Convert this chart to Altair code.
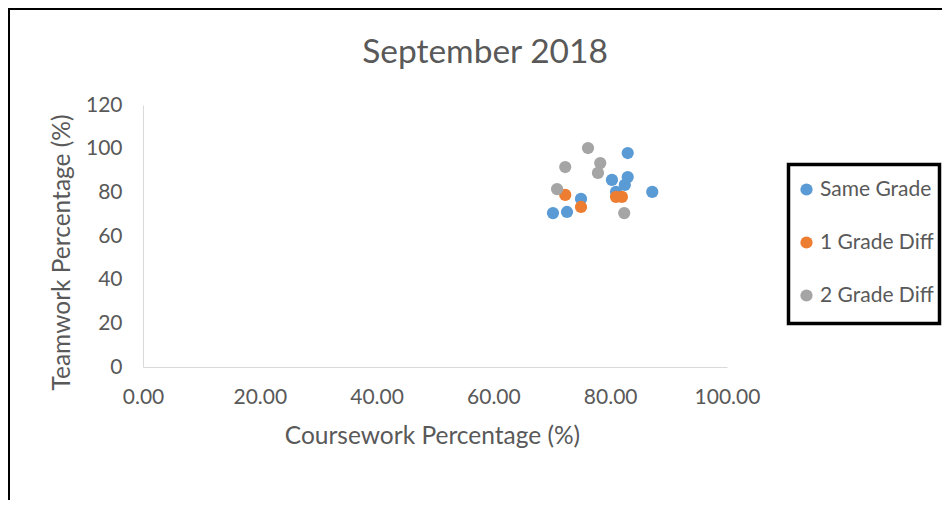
import altair as alt
import pandas as pd

# Series data (Coursework %, Teamwork %)
same_x = [70.2, 72.6, 75.0, 80.3, 81.0, 82.5, 83.0, 83.0, 87.2]
same_y = [70.5, 71.0, 77.0, 85.7, 80.2, 83.4, 87.0, 98.0, 80.2]
one_x = [72.3, 75.0, 81.0, 82.0]
one_y = [78.8, 73.3, 77.9, 77.9]
two_x = [70.9, 72.3, 76.2, 78.3, 77.9, 82.4]
two_y = [81.5, 91.6, 100.3, 93.4, 88.9, 70.5]

series_names = ["Same Grade", "1 Grade Diff", "2 Grade Diff"]
series_colors = ["#5B9BD5", "#ED7D31", "#A5A5A5"]
x_ticks = [0, 20, 40, 60, 80, 100]
y_ticks = [0, 20, 40, 60, 80, 100, 120]
chart_title = ["September 2018"]

rows = []
for name, xs, ys in zip(series_names, [same_x, one_x, two_x], [same_y, one_y, two_y]):
    for a, b in zip(xs, ys):
        rows.append({"Series": name, "Coursework": a, "Teamwork": b})
df = pd.DataFrame(rows)

FONT = "Lato"
GREY = "#595959"

points = alt.Chart(df).mark_point(filled=True, opacity=1, size=150, shape="circle").encode(
    x=alt.X("Coursework:Q",
            scale=alt.Scale(domain=[0, 100], nice=False, zero=True),
            axis=alt.Axis(values=x_ticks, format=".2f", title="Coursework Percentage (%)",
                          grid=False, ticks=False, tickSize=0, domainColor="#D9D9D9",
                          labelFlush=False,
                          labelFontSize=21, labelColor=GREY, labelFont=FONT, labelPadding=19,
                          titleFontSize=24.5, titleColor=GREY, titleFont=FONT, titleFontWeight="normal",
                          titleX=289, titleY=69, titleBaseline="middle")),
    y=alt.Y("Teamwork:Q",
            scale=alt.Scale(domain=[0, 120], nice=False),
            axis=alt.Axis(values=y_ticks, title="Teamwork Percentage (%)",
                          grid=False, ticks=False, tickSize=0, domainColor="#D9D9D9",
                          labelFlush=False,
                          labelFontSize=21, labelColor=GREY, labelFont=FONT, labelPadding=21,
                          titleFontSize=24.5, titleColor=GREY, titleFont=FONT, titleFontWeight="normal",
                          titleX=-81, titleY=147, titleBaseline="middle")),
    color=alt.Color("Series:N",
                    scale=alt.Scale(domain=series_names, range=series_colors),
                    sort=series_names,
                    legend=alt.Legend(title=None, orient="none", legendX=653, legendY=74,
                                      padding=0, rowPadding=31,
                                      labelFontSize=21, labelColor=GREY, labelFont=FONT,
                                      symbolType="circle", symbolSize=150, symbolStrokeWidth=0,
                                      labelOffset=3)),
)

title = alt.Chart(pd.DataFrame({"t": chart_title})).mark_text(
    font=FONT, fontSize=33.5, color=GREY, align="center", baseline="alphabetic"
).encode(text="t:N", x=alt.value(342), y=alt.value(-42))

frame = alt.Chart(pd.DataFrame({"a": [0]})).mark_rect(filled=False, stroke="black", strokeWidth=2).encode(
    x=alt.value(-134), x2=alt.value(830), y=alt.value(-96), y2=alt.value(440)
)

legend_box = alt.Chart(pd.DataFrame({"a": [0]})).mark_rect(filled=False, stroke="black", strokeWidth=3.5).encode(
    x=alt.value(645.5), x2=alt.value(796.5), y=alt.value(59.5), y2=alt.value(218.5)
)

chart = alt.layer(frame, legend_box, title, points).properties(
    width=584, height=262,
    padding={"left": 135, "top": 97, "right": 215, "bottom": 133},
    autosize=alt.AutoSizeParams(type="none"),
).configure_view(stroke=None)

chart.save("out.html", embed_options={"renderer": "svg", "actions": False})
